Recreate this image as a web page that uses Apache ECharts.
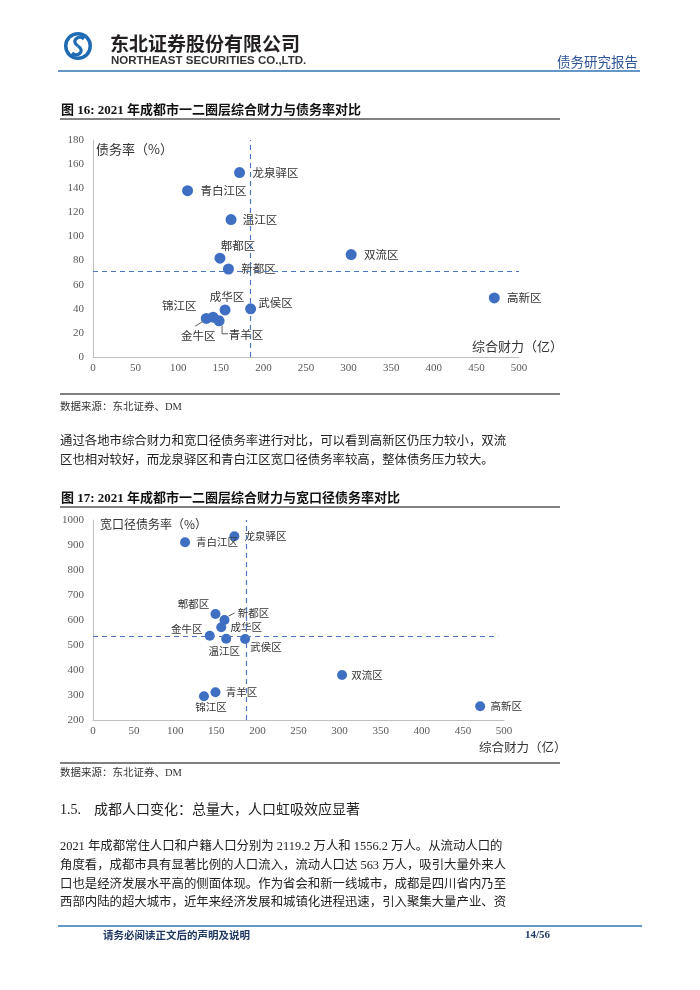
<!DOCTYPE html>
<html>
<head>
<meta charset="utf-8">
<script src="https://cdn.jsdelivr.net/npm/echarts@6/dist/echarts.min.js"></script>
<style>
html,body{margin:0;padding:0;background:#fff;}
#main{width:700px;height:990px;}
</style>
</head>
<body>
<div id="main"></div>
<script>
// ---------- DATA ----------
// Figure 16: comprehensive fiscal capacity (亿) vs debt ratio (%)
const names1   = ['龙泉驿区','青白江区','温江区','郫都区','新都区','双流区','高新区','成华区','武侯区','锦江区','金牛区','青羊区'];
const finance1 = [172, 111, 162, 149, 159, 303, 471, 155, 185, 133, 141, 148];
const debt1    = [153, 138, 114,  82,  73,  85,  49,  39,  40,  32,  33,  30];
const refFinance1 = 185;
const refDebt1    = 71;

// Figure 17: comprehensive fiscal capacity (亿) vs broad debt ratio (%)
const names2     = ['龙泉驿区','青白江区','郫都区','新都区','成华区','金牛区','温江区','武侯区','双流区','青羊区','锦江区','高新区'];
const finance2   = [172, 112, 149, 160, 156, 142, 162, 185, 303, 149, 135, 471];
const broadDebt2 = [935, 911, 624, 600, 571, 537, 525, 524, 380, 311, 295, 255];
const refFinance2 = 187;
const refDebt2    = 536;

// axis ranges / ticks
const xTicks  = {min: 0, max: 500, interval: 50};
const y1Ticks = {min: 0, max: 180, interval: 20};
const y2Ticks = {min: 200, max: 1000, interval: 100};

// ---------- STYLE (label placement, offsets from point centre) ----------
const labelOffset1 = {
  '龙泉驿区':[36,0], '青白江区':[36,0], '温江区':[29,0], '郫都区':[18,-13], '新都区':[30,0],
  '双流区':[30,0], '高新区':[30,0], '成华区':[2,-13], '武侯区':[25,-6], '锦江区':[-27,-13],
  '金牛区':[-15,18], '青羊区':[27,14]
};
const labelOffset2 = {
  '龙泉驿区':[31,0], '青白江区':[32,0], '郫都区':[-22,-10], '新都区':[29,-7], '成华区':[25,0],
  '金牛区':[-23,-7], '温江区':[-2,12], '武侯区':[21,8], '双流区':[25,0], '青羊区':[26,0],
  '锦江区':[7,11], '高新区':[26,0]
};

const SERIF = '"Liberation Serif","Noto Sans CJK SC"';
const CJK = '"Noto Sans CJK SC"';
const blue = '#3f6fc3';
const dashBlue = '#4f77c0';

function buildData(names, xs, ys, offsets){
  return names.map((n,i)=>({name:n, value:[xs[i], ys[i]], label:{offset: offsets[n]}}));
}

const axisCommonX = {
  type:'value', min:xTicks.min, max:xTicks.max, interval:xTicks.interval,
  axisLine:{show:true, lineStyle:{color:'#bfbfbf', width:1}},
  axisTick:{show:false}, splitLine:{show:false},
  axisLabel:{color:'#595959', fontFamily:'Liberation Serif', fontSize:11, margin:6, formatter:v=>String(v)},
  nameLocation:'end'
};
const axisCommonY = {
  type:'value',
  axisLine:{show:true, lineStyle:{color:'#bfbfbf', width:1}},
  axisTick:{show:false}, splitLine:{show:false},
  axisLabel:{color:'#595959', fontFamily:'Liberation Serif', fontSize:11, margin:9, formatter:v=>String(v)},
  nameLocation:'end'
};

const chart = echarts.init(document.getElementById('main'), null, {renderer:'canvas'});

const option = {
  animation:false,
  backgroundColor:'#fff',
  grid:[
    {left:93, top:140, width:426, height:217},
    {left:93, top:520, width:411, height:200}
  ],
  xAxis:[
    Object.assign({}, axisCommonX, {gridIndex:0, name:'综合财力（亿）', nameGap:-47,
      nameTextStyle:{fontFamily:CJK, fontSize:13, color:'#333', align:'left', verticalAlign:'bottom', padding:[0,0,4,0]}}),
    Object.assign({}, axisCommonX, {gridIndex:1, name:'综合财力（亿）', nameGap:-25,
      nameTextStyle:{fontFamily:CJK, fontSize:12.5, color:'#333', align:'left', verticalAlign:'top', padding:[21,0,0,0]}})
  ],
  yAxis:[
    Object.assign({}, axisCommonY, {gridIndex:0, min:y1Ticks.min, max:y1Ticks.max, interval:y1Ticks.interval,
      name:'债务率（%）', nameGap:-9,
      nameTextStyle:{fontFamily:CJK, fontSize:13, color:'#333', align:'left', verticalAlign:'middle', padding:[0,0,0,3]}}),
    Object.assign({}, axisCommonY, {gridIndex:1, min:y2Ticks.min, max:y2Ticks.max, interval:y2Ticks.interval,
      name:'宽口径债务率（%）', nameGap:-4,
      nameTextStyle:{fontFamily:CJK, fontSize:12, color:'#333', align:'left', verticalAlign:'middle', padding:[0,0,0,7]}})
  ],
  series:[
    {
      type:'scatter', xAxisIndex:0, yAxisIndex:0, symbolSize:11,
      itemStyle:{color:blue, opacity:1},
      emphasis:{disabled:true},
      label:{show:true, position:'inside', formatter:'{b}', color:'#333', fontSize:11.5, fontFamily:CJK},
      data: buildData(names1, finance1, debt1, labelOffset1),
      markLine:{
        silent:true, symbol:'none', animation:false,
        label:{show:false},
        lineStyle:{type:[5,4], color:dashBlue, width:1.2},
        data:[
          [{coord:[refFinance1, y1Ticks.min]},{coord:[refFinance1, y1Ticks.max]}],
          [{coord:[xTicks.min, refDebt1]},{coord:[xTicks.max, refDebt1]}]
        ]
      }
    },
    {
      type:'scatter', xAxisIndex:1, yAxisIndex:1, symbolSize:10,
      itemStyle:{color:blue, opacity:1},
      emphasis:{disabled:true},
      label:{show:true, position:'inside', formatter:'{b}', color:'#333', fontSize:10.5, fontFamily:CJK},
      data: buildData(names2, finance2, broadDebt2, labelOffset2),
      markLine:{
        silent:true, symbol:'none', animation:false,
        label:{show:false},
        lineStyle:{type:[5,4], color:dashBlue, width:1.2},
        data:[
          [{coord:[refFinance2, y2Ticks.min]},{coord:[refFinance2, y2Ticks.max]}],
          [{coord:[xTicks.min, refDebt2]},{coord:[493, refDebt2]}]
        ]
      }
    }
  ]
};
chart.setOption(option);

// ---------- page furniture (text + rules) ----------
function txt(text, x, y, font, fill, align){
  return {type:'text', x:x, y:y, silent:true,
    style:{text:text, font:font, fill:fill||'#222', align:align||'left', verticalAlign:'middle'}};
}
function hline(x1, x2, y, color, w){
  return {type:'line', silent:true, shape:{x1:x1, y1:y, x2:x2, y2:y}, style:{stroke:color, lineWidth:w}};
}

const bodyFont = '12.4px ' + SERIF;
const graphics = [
  // logo
  {type:'circle', silent:true, shape:{cx:78, cy:46, r:14}, style:{fill:'#1f6cb5'}},
  {type:'circle', silent:true, shape:{cx:78, cy:46, r:10.5}, style:{fill:'#fff'}},
  {type:'bezierCurve', silent:true, shape:{x1:84, y1:39, cpx1:79, cpy1:34, cpx2:70, cpy2:41, x2:78, y2:46},
    style:{fill:'none', stroke:'#1f6cb5', lineWidth:3.2}},
  {type:'bezierCurve', silent:true, shape:{x1:78, y1:46, cpx1:86, cpy1:51, cpx2:77, cpy2:58, x2:72, y2:53},
    style:{fill:'none', stroke:'#1f6cb5', lineWidth:3.2}},
  txt('东北证券股份有限公司', 110, 44, 'bold 19px ' + CJK, '#231f20'),
  txt('NORTHEAST SECURITIES CO.,LTD.', 111, 61, 'bold 11.5px "Liberation Sans"', '#333'),
  txt('债务研究报告', 638, 62, '13.5px ' + CJK, '#2f5597', 'right'),
  hline(58, 640, 71, '#2e75b6', 1.5),

  // figure 16
  txt('图 16: 2021 年成都市一二圈层综合财力与债务率对比', 61, 111, 'bold 13px ' + SERIF, '#111'),
  hline(60, 560, 119, '#595959', 1.5),
  hline(60, 560, 394, '#7f7f7f', 2),
  txt('数据来源：东北证券、DM', 60, 407, '10.5px ' + SERIF, '#333'),

  // paragraph 1
  txt('通过各地市综合财力和宽口径债务率进行对比，可以看到高新区仍压力较小，双流', 60, 442, bodyFont, '#222'),
  txt('区也相对较好，而龙泉驿区和青白江区宽口径债务率较高，整体债务压力较大。', 60, 461, bodyFont, '#222'),

  // figure 17
  txt('图 17: 2021 年成都市一二圈层综合财力与宽口径债务率对比', 61, 499, 'bold 13px ' + SERIF, '#111'),
  hline(60, 560, 507, '#595959', 1.5),
  hline(60, 560, 763, '#7f7f7f', 2),
  txt('数据来源：东北证券、DM', 60, 773, '10.5px ' + SERIF, '#333'),

  // section 1.5
  txt('1.5.', 60, 810, '14px ' + SERIF, '#222'),
  txt('成都人口变化：总量大，人口虹吸效应显著', 94, 810, '14px ' + SERIF, '#222'),
  txt('2021 年成都常住人口和户籍人口分别为 2119.2 万人和 1556.2 万人。从流动人口的', 60, 847, bodyFont, '#222'),
  txt('角度看，成都市具有显著比例的人口流入，流动人口达 563 万人，吸引大量外来人', 60, 866, bodyFont, '#222'),
  txt('口也是经济发展水平高的侧面体现。作为省会和新一线城市，成都是四川省内乃至', 60, 885, bodyFont, '#222'),
  txt('西部内陆的超大城市，近年来经济发展和城镇化进程迅速，引入聚集大量产业、资', 60, 903, bodyFont, '#222'),

  // footer
  hline(58, 642, 926, '#2e75b6', 1.5),
  txt('请务必阅读正文后的声明及说明', 103, 935, 'bold 10.5px ' + CJK, '#1f3864'),
  txt('14/56', 525, 935, 'bold 11px "Liberation Serif"', '#1f3864')
];

// leader lines for crowded labels, anchored on the library's own pixel mapping
function px(grid, names, xs, ys, n){
  const i = names.indexOf(n);
  return chart.convertToPixel({gridIndex:grid}, [xs[i], ys[i]]);
}
const leaderStyle = {stroke:'#333', lineWidth:0.8, fill:'none'};
let p = px(0, names1, finance1, debt1, '金牛区');
graphics.push({type:'polyline', silent:true, shape:{points:[[p[0]-18,p[1]+9],[p[0]-5,p[1]+1]]}, style:leaderStyle});
p = px(0, names1, finance1, debt1, '青羊区');
graphics.push({type:'polyline', silent:true, shape:{points:[[p[0]+3,p[1]+5],[p[0]+3,p[1]+13],[p[0]+9,p[1]+13]]}, style:leaderStyle});
p = px(1, names2, finance2, broadDebt2, '新都区');
graphics.push({type:'polyline', silent:true, shape:{points:[[p[0]+4,p[1]-4],[p[0]+10,p[1]-7]]}, style:leaderStyle});

chart.setOption({graphic: graphics});
</script>
</body>
</html>
